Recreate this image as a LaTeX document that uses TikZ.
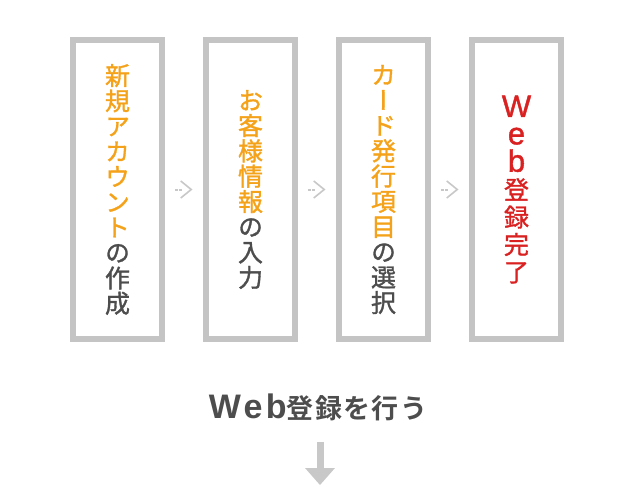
\documentclass[tikz,border=0pt]{standalone}
\usepackage{fontspec}
\setmainfont{Noto Sans CJK JP}
\newfontfamily\jpfont{Noto Sans CJK JP}[RawFeature=+vert, FakeBold=1.3]
\newfontfamily\jpbold{Noto Sans CJK JP Bold}[LetterSpace=5]
\newfontfamily\latfont{Liberation Sans}[FakeBold=1.3]
\newfontfamily\latbold{Liberation Sans Bold}[LetterSpace=10]
\usetikzlibrary{positioning, calc, arrows.meta}

\definecolor{boxgray}{HTML}{C4C4C4}
\definecolor{linkgray}{HTML}{C8C8C8}
\definecolor{textgray}{HTML}{4D4D4D}
\definecolor{steporange}{HTML}{F5A21B}
\definecolor{donered}{HTML}{DA2121}

\begin{document}
\begin{tikzpicture}[x=1pt, y=-1pt,
		stepbox/.style={draw=boxgray, line width=6pt, minimum width=89pt, minimum height=299pt,
			inner sep=0pt, text width=34pt, align=center, text=textgray,
			font=\jpfont\fontsize{25}{25.3}\selectfont},
		link/.style={draw=linkgray, line width=2pt, dash pattern=on 2.5pt off 1.5pt on 2.5pt off 40pt,
			shorten <=10pt, shorten >=10.5pt,
			-{Straight Barb[length=10.5pt, width=17pt, line width=1.6pt, sharp]}},
		downarrow/.style={draw=linkgray, line width=7pt,
			-{Triangle[length=17pt, width=30pt, line width=0pt]}}]
	\useasboundingbox (0,0) rectangle (640,490);

	\node[stepbox] (s1) at (117.5,189.5)
		{{\color{steporange}新\\規\\ア\\カ\\ウ\\ン\\ト\\}の\\作\\成};
	\node[stepbox, right=38pt of s1] (s2)
		{{\color{steporange}お\\客\\様\\情\\報\\}の\\入\\力};
	\node[stepbox, right=38pt of s2] (s3)
		{{\color{steporange}カ\\ー\\ド\\発\\行\\項\\目\\}の\\選\\択};
	\node[stepbox, right=38pt of s3, text=donered, font=\jpfont\fontsize{25}{27.4}\selectfont] (s4)
		{{\latfont\fontsize{31}{27.4}\selectfont W\\e\\b\\}登\\録\\完\\了};

	\foreach \a/\b in {s1/s2, s2/s3, s3/s4}
	{
		\draw[link] (\a.east) -- (\b.west);
	}

	\node[anchor=base, inner sep=0pt, text=textgray, font=\jpbold\fontsize{27}{27}\selectfont] (title) at (318,418)
		{{\latbold\fontsize{34}{34}\selectfont Web}登録を行う};

	\coordinate (arrowend) at (320,485);
	\draw[downarrow, shorten <=21pt] (title.south -| arrowend) -- (arrowend);
\end{tikzpicture}
\end{document}
